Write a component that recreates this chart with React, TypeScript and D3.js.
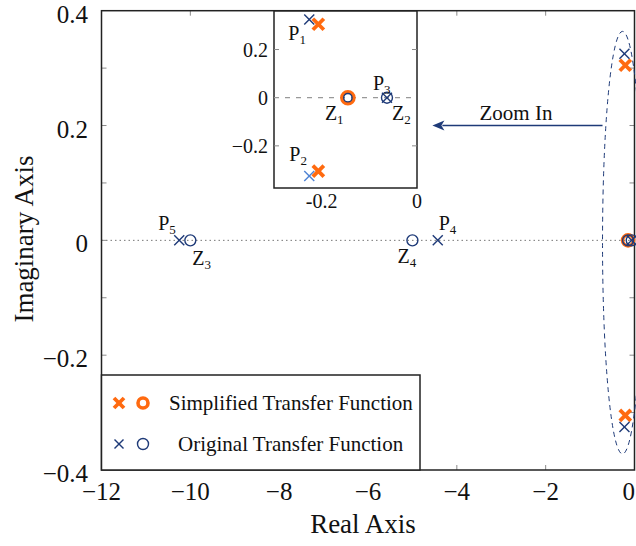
import React from "react";
import * as d3 from "d3";

// ---------- data ----------
const originalPolesRe = [-0.226, -0.226, -0.063, -4.43, -10.25];
const originalPolesIm = [0.325, -0.325, 0, 0, 0];
const originalZerosRe = [-0.145, -0.063, -10.0, -5.0];
const originalZerosIm = [0, 0, 0, 0];
const simplifiedPolesRe = [-0.207, -0.207];
const simplifiedPolesIm = [0.305, -0.305];
const simplifiedZerosRe = [-0.145];
const simplifiedZerosIm = [0];

const xTicks = [-12, -10, -8, -6, -4, -2, 0];
const yTicks = [-0.4, -0.2, 0, 0.2, 0.4];
const yMinorTicks = [-0.3, -0.2, -0.1, 0, 0.1, 0.2, 0.3];
const insetXTicks = [-0.2, 0];
const insetYTicks = [-0.2, 0, 0.2];

const legendLabels = ["Simplified Transfer Function", "Original Transfer Function"];

const W = 636;
const H = 546;
const ORANGE = "#ff6a10";
const NAVY = "#1e3a78";
const LIGHTBLUE = "#4f83d4";
const TICKGRAY = "#8a8a8a";
const FONT = "'Liberation Serif', 'Times New Roman', serif";

const fmt = (v: number) => {
  if (v === 0) return "0";
  const s = Math.abs(v).toString();
  return (v < 0 ? "\u2212" : "") + s;
};

function XMark({ x, y, s, color, w }: { x: number; y: number; s: number; color: string; w: number }) {
  return (
    <g stroke={color} strokeWidth={w} strokeLinecap="butt">
      <line x1={x - s} y1={y - s} x2={x + s} y2={y + s} />
      <line x1={x - s} y1={y + s} x2={x + s} y2={y - s} />
    </g>
  );
}

function Lbl({ x, y, main, sub, size = 20 }: { x: number; y: number; main: string; sub: string; size?: number }) {
  return (
    <text x={x} y={y} fontFamily={FONT} fontSize={size} fill="#111">
      {main}
      <tspan fontSize={size * 0.65} dy={4}>{sub}</tspan>
    </text>
  );
}

export default function App() {
  // main axes
  const x = d3.scaleLinear().domain([-12, 0]).range([101.5, 634.5]);
  const y = d3.scaleLinear().domain([-0.4, 0.4]).range([470, 10.7]);
  // inset axes
  const ix = d3.scaleLinear().domain([-0.3, 0]).range([274, 417]);
  const iy = d3.scaleLinear().domain([-0.375, 0.36]).range([188, 11]);

  const [x0, x1] = x.range();
  const [y0, y1] = y.range();
  const [ix0, ix1] = ix.range();
  const [iy0, iy1] = iy.range();

  const origPoles = originalPolesRe.map((r, i) => ({ r, im: originalPolesIm[i] }));
  const origZeros = originalZerosRe.map((r, i) => ({ r, im: originalZerosIm[i] }));
  const simpPoles = simplifiedPolesRe.map((r, i) => ({ r, im: simplifiedPolesIm[i] }));
  const simpZeros = simplifiedZerosRe.map((r, i) => ({ r, im: simplifiedZerosIm[i] }));

  // ellipse annotation in data coordinates
  const ell = { cx: -0.27, cy: -0.004, rx: 0.45, ry: 0.368 };
  const ecx = x(ell.cx);
  const ecy = y(ell.cy);
  const erx = x(ell.cx + ell.rx) - ecx;
  const ery = y(ell.cy - ell.ry) - ecy;

  const arrowY = y(0.2);
  const arrowStart = x(-0.72);
  const arrowEnd = x(-4.55);

  return (
    <svg width={W} height={H} style={{ position: "absolute", left: 0, top: 0, background: "#fff" }}>
      <rect x={0} y={0} width={W} height={H} fill="#fff" />
      {/* zero line */}
      <line x1={x0} x2={x1} y1={y(0)} y2={y(0)} stroke="#777" strokeWidth={1} strokeDasharray="1.5,3" />

      {/* ticks main */}
      {xTicks.slice(1, -1).map((t) => (
        <g key={"xt" + t} stroke={TICKGRAY} strokeWidth={1}>
          <line x1={x(t)} x2={x(t)} y1={y0} y2={y0 - 5} />
          <line x1={x(t)} x2={x(t)} y1={y1} y2={y1 + 5} />
        </g>
      ))}
      {yMinorTicks.map((t) => (
        <g key={"yt" + t} stroke={TICKGRAY} strokeWidth={1}>
          <line x1={x0} x2={x0 + 5} y1={y(t)} y2={y(t)} />
          <line x1={x1} x2={x1 - 5} y1={y(t)} y2={y(t)} />
        </g>
      ))}

      {/* frame */}
      <rect x={x0} y={y1} width={x1 - x0} height={y0 - y1} fill="none" stroke="#222" strokeWidth={1.5} />

      {/* tick labels */}
      {xTicks.map((t) => (
        <text
          key={"xl" + t}
          x={t === 0 ? W - 1 : x(t)}
          y={500}
          textAnchor={t === 0 ? "end" : "middle"}
          fontFamily={FONT}
          fontSize={25}
          fill="#111"
        >
          {fmt(t)}
        </text>
      ))}
      {yTicks.map((t) => (
        <text key={"yl" + t} x={88} y={y(t) + 12} textAnchor="end" fontFamily={FONT} fontSize={25} fill="#111">
          {fmt(t)}
        </text>
      ))}

      {/* axis titles */}
      <text x={363} y={533} textAnchor="middle" fontFamily={FONT} fontSize={27} fill="#111">
        Real Axis
      </text>
      <text
        transform={`translate(33,${239}) rotate(-90)`}
        textAnchor="middle"
        fontFamily={FONT}
        fontSize={27}
        fill="#111"
      >
        Imaginary Axis
      </text>

      {/* ellipse + arrow */}
      <ellipse cx={ecx} cy={ecy} rx={erx} ry={ery} fill="none" stroke={NAVY} strokeWidth={1} strokeDasharray="5,4" />
      <line x1={arrowStart} x2={arrowEnd + 10} y1={arrowY} y2={arrowY} stroke={NAVY} strokeWidth={1.6} />
      <path d={`M${arrowEnd},${arrowY} L${arrowEnd + 12},${arrowY - 5} L${arrowEnd + 9},${arrowY} L${arrowEnd + 12},${arrowY + 5} Z`} fill={NAVY} />
      <text x={516} y={120} textAnchor="middle" fontFamily={FONT} fontSize={21} fill="#111">
        Zoom In
      </text>

      {/* main markers: simplified */}
      {simpPoles.map((p, i) => (
        <XMark key={"sp" + i} x={x(p.r)} y={y(p.im)} s={5.5} color={ORANGE} w={3.8} />
      ))}
      {simpZeros.map((p, i) => (
        <circle key={"sz" + i} cx={x(p.r)} cy={y(p.im)} r={5.5} fill="none" stroke={ORANGE} strokeWidth={3.6} />
      ))}
      {/* main markers: original */}
      {origPoles.map((p, i) => (
        <XMark key={"op" + i} x={x(p.r)} y={y(p.im)} s={5} color={NAVY} w={1.4} />
      ))}
      {origZeros.map((p, i) => (
        <circle key={"oz" + i} cx={x(p.r)} cy={y(p.im)} r={5.5} fill="none" stroke={NAVY} strokeWidth={1.4} />
      ))}

      {/* main labels */}
      <Lbl x={x(-10.25) - 21} y={y(0) - 10} main="P" sub="5" />
      <Lbl x={x(-10.0) + 2} y={y(0) + 25} main="Z" sub="3" />
      <Lbl x={x(-4.43) + 1} y={y(0) - 10} main="P" sub="4" />
      <Lbl x={x(-5.0) - 15} y={y(0) + 23} main="Z" sub="4" />

      {/* legend */}
      <rect x={x0} y={375} width={420 - x0} height={y0 - 375} fill="#fff" stroke="#222" strokeWidth={1.5} />
      <XMark x={119} y={403} s={5} color={ORANGE} w={3.8} />
      <circle cx={143} cy={403} r={5} fill="none" stroke={ORANGE} strokeWidth={3.6} />
      <text x={169} y={410} fontFamily={FONT} fontSize={21} fill="#111">
        {legendLabels[0]}
      </text>
      <XMark x={119} y={444} s={4.5} color={NAVY} w={1.4} />
      <circle cx={143} cy={444} r={5.5} fill="none" stroke={NAVY} strokeWidth={1.4} />
      <text x={178} y={451} fontFamily={FONT} fontSize={21} fill="#111">
        {legendLabels[1]}
      </text>

      {/* inset */}
      <rect x={ix0} y={iy1} width={ix1 - ix0} height={iy0 - iy1} fill="#fff" stroke="#222" strokeWidth={1.5} />
      <line x1={ix0} x2={ix1} y1={iy(0)} y2={iy(0)} stroke="#999" strokeWidth={1.2} strokeDasharray="5,6" />
      {insetYTicks.map((t) => (
        <g key={"iyt" + t}>
          {t !== 0 && (
            <g stroke={TICKGRAY} strokeWidth={1}>
              <line x1={ix0} x2={ix0 + 5} y1={iy(t)} y2={iy(t)} />
              <line x1={ix1} x2={ix1 - 5} y1={iy(t)} y2={iy(t)} />
            </g>
          )}
          <text x={268} y={iy(t) + 7} textAnchor="end" fontFamily={FONT} fontSize={20} fill="#111">
            {fmt(t)}
          </text>
        </g>
      ))}
      {insetXTicks.map((t) => (
        <text key={"ixt" + t} x={ix(t)} y={208} textAnchor="middle" fontFamily={FONT} fontSize={20} fill="#111">
          {t === 0 ? "0" : "-0.2"}
        </text>
      ))}
      {simpPoles.map((p, i) => (
        <XMark key={"isp" + i} x={ix(p.r)} y={iy(p.im)} s={5.5} color={ORANGE} w={3.8} />
      ))}
      {simpZeros.map((p, i) => (
        <circle key={"isz" + i} cx={ix(p.r)} cy={iy(p.im)} r={6} fill="none" stroke={ORANGE} strokeWidth={3.6} />
      ))}
      {origPoles
        .filter((p) => p.r > -0.3)
        .map((p, i) => (
          <XMark key={"iop" + i} x={ix(p.r)} y={iy(p.im)} s={5} color={p.im < 0 ? LIGHTBLUE : NAVY} w={1.4} />
        ))}
      {origZeros
        .filter((p) => p.r > -0.3)
        .map((p, i) => (
          <circle key={"ioz" + i} cx={ix(p.r)} cy={iy(p.im)} r={p.r === -0.145 ? 4.2 : 5.5} fill="none" stroke={NAVY} strokeWidth={1.4} />
        ))}
      <Lbl x={ix(-0.226) - 21} y={iy(0.325) + 21} main="P" sub="1" />
      <Lbl x={ix(-0.226) - 20} y={iy(-0.325) - 15} main="P" sub="2" />
      <Lbl x={ix(-0.145) - 23} y={iy(0) + 22} main="Z" sub="1" />
      <Lbl x={ix(-0.063) - 14} y={iy(0) - 8} main="P" sub="3" />
      <Lbl x={ix(-0.063) + 5} y={iy(0) + 22} main="Z" sub="2" />
    </svg>
  );
}
